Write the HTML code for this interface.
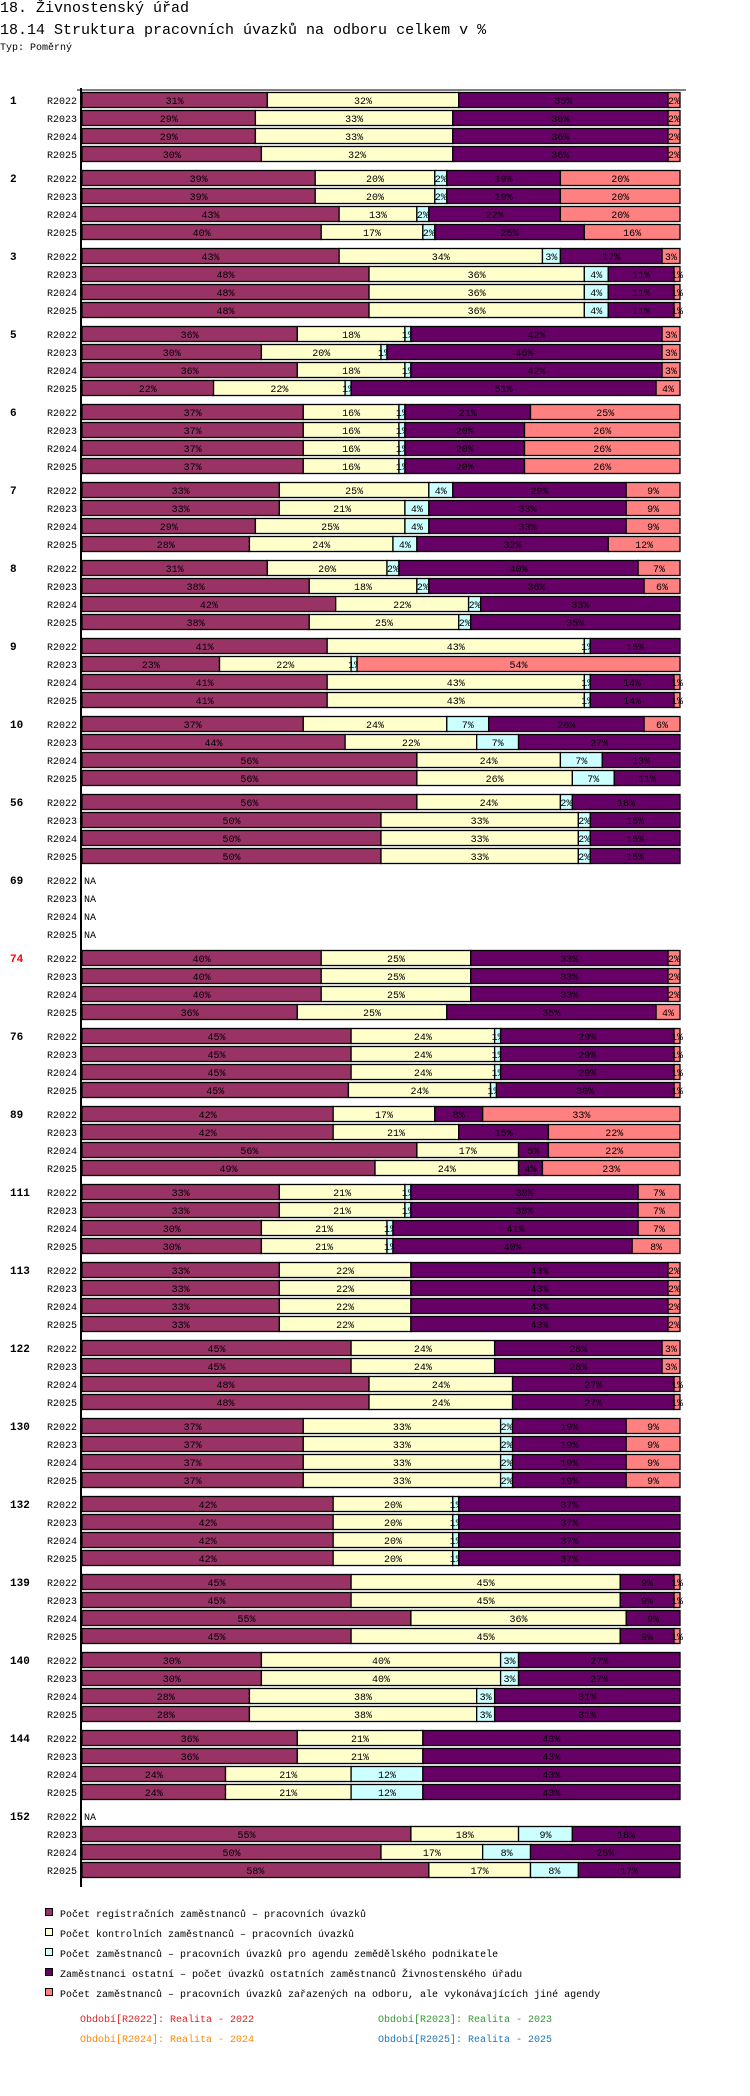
<!DOCTYPE html>
<html><head><meta charset="utf-8">
<style>
body{margin:0;background:#fff;width:750px;height:2096px;overflow:hidden;font-family:"Liberation Mono",monospace;}
.h1{position:absolute;left:0;top:0;font-size:15px;}
.h2{position:absolute;left:0;top:22px;font-size:15px;}
.h3{position:absolute;left:0;top:43px;font-size:10px;}
svg{position:absolute;left:0;top:0;}
</style></head><body>
<div class="h1">18. Živnostenský úřad</div>
<div class="h2">18.14 Struktura pracovních úvazků na odboru celkem v %</div>
<div class="h3">Typ: Poměrný</div>
<svg id="chart" width="750" height="2096"></svg>
<script>
const groups = ["1","2","3","5","6","7","8","9","10","56","69","74","76","89","111","113","122","130","132","139","140","144","152"];
const periods = ["R2022","R2023","R2024","R2025"];
const colors = ["#993366","#ffffcc","#ccffff","#660066","#ff8080"];
const seriesNames = ["Počet registračních zaměstnanců – pracovních úvazků","Počet kontrolních zaměstnanců – pracovních úvazků","Počet zaměstnanců – pracovních úvazků pro agendu zemědělského podnikatele","Zaměstnanci ostatní – počet úvazků ostatních zaměstnanců Živnostenského úřadu","Počet zaměstnanců – pracovních úvazků zařazených na odboru, ale vykonávajících jiné agendy"];
const g1 = [[31,32,0,35,2],[29,33,0,36,2],[29,33,0,36,2],[30,32,0,36,2]];
const g2 = [[39,20,2,19,20],[39,20,2,19,20],[43,13,2,22,20],[40,17,2,25,16]];
const g3 = [[43,34,3,17,3],[48,36,4,11,1],[48,36,4,11,1],[48,36,4,11,1]];
const g5 = [[36,18,1,42,3],[30,20,1,46,3],[36,18,1,42,3],[22,22,1,51,4]];
const g6 = [[37,16,1,21,25],[37,16,1,20,26],[37,16,1,20,26],[37,16,1,20,26]];
const g7 = [[33,25,4,29,9],[33,21,4,33,9],[29,25,4,33,9],[28,24,4,32,12]];
const g8 = [[31,20,2,40,7],[38,18,2,36,6],[42,22,2,33,0],[38,25,2,35,0]];
const g9 = [[41,43,1,15,0],[23,22,1,0,54],[41,43,1,14,1],[41,43,1,14,1]];
const g10 = [[37,24,7,26,6],[44,22,7,27,0],[56,24,7,13,0],[56,26,7,11,0]];
const g56 = [[56,24,2,18,0],[50,33,2,15,0],[50,33,2,15,0],[50,33,2,15,0]];
const g69 = [null,null,null,null];
const g74 = [[40,25,0,33,2],[40,25,0,33,2],[40,25,0,33,2],[36,25,0,35,4]];
const g76 = [[45,24,1,29,1],[45,24,1,29,1],[45,24,1,29,1],[45,24,1,30,1]];
const g89 = [[42,17,0,8,33],[42,21,0,15,22],[56,17,0,5,22],[49,24,0,4,23]];
const g111 = [[33,21,1,38,7],[33,21,1,38,7],[30,21,1,41,7],[30,21,1,40,8]];
const g113 = [[33,22,0,43,2],[33,22,0,43,2],[33,22,0,43,2],[33,22,0,43,2]];
const g122 = [[45,24,0,28,3],[45,24,0,28,3],[48,24,0,27,1],[48,24,0,27,1]];
const g130 = [[37,33,2,19,9],[37,33,2,19,9],[37,33,2,19,9],[37,33,2,19,9]];
const g132 = [[42,20,1,37,0],[42,20,1,37,0],[42,20,1,37,0],[42,20,1,37,0]];
const g139 = [[45,45,0,9,1],[45,45,0,9,1],[55,36,0,9,0],[45,45,0,9,1]];
const g140 = [[30,40,3,27,0],[30,40,3,27,0],[28,38,3,31,0],[28,38,3,31,0]];
const g144 = [[36,21,0,43,0],[36,21,0,43,0],[24,21,12,43,0],[24,21,12,43,0]];
const g152 = [null,[55,18,9,18,0],[50,17,8,25,0],[58,17,8,17,0]];
const values = [g1,g2,g3,g5,g6,g7,g8,g9,g10,g56,g69,g74,g76,g89,g111,g113,g122,g130,g132,g139,g140,g144,g152];

const NS="http://www.w3.org/2000/svg";
const svg=document.getElementById('chart');
const X0=82, W=598, Y0=92, ROW=18, GROUP=78, BH=15;
function xs(v){return X0+v*W/100;}
function rowY(g,r){return Y0+g*GROUP+r*ROW;}
function mk(tag,attrs){const e=document.createElementNS(NS,tag);for(const k in attrs)e.setAttribute(k,attrs[k]);svg.appendChild(e);return e;}

groups.forEach((gn,gi)=>{
  const gl=mk('text',{x:10,y:rowY(gi,0)+12,'font-size':11,'font-weight':'bold','font-family':'Liberation Mono, monospace',fill:gn==="74"?'#ff0000':'#000'});
  
  
  gl.textContent=gn;
  periods.forEach((p,ri)=>{
    const y=rowY(gi,ri);
    const pl=mk('text',{x:77,y:y+12,'font-size':10,'text-anchor':'end','font-family':'Liberation Mono, monospace',fill:'#000'});
    
    
    pl.textContent=p;
    const vals=values[gi][ri];
    if(!vals){
      const na=mk('text',{x:84,y:y+12,'font-size':10,'font-family':'Liberation Mono, monospace',fill:'#000'});
      
      
      na.textContent='NA';
      return;
    }
    const total=vals.reduce((a,b)=>a+b,0);
    let cum=0;
    vals.forEach((v,si)=>{
      if(v<=0)return;
      const xa=xs(cum/total*100), xb=xs((cum+v)/total*100);
      const r=mk('rect',{x:xa,y:y+0.5,width:xb-xa,height:BH,fill:colors[si],stroke:'#000','stroke-width':1.3});
      
      
      const t=mk('text',{x:(xa+xb)/2,y:y+12,'font-size':10,'text-anchor':'middle','font-family':'Liberation Mono, monospace',fill:'#000'});
      
      
      t.textContent=v+'%';
      cum+=v;
    });
  });
});
const ax=mk('line',{x1:81,y1:88,x2:81,y2:1887,stroke:'#000','stroke-width':2});


const tl=mk('line',{x1:77,y1:90,x2:686,y2:90,stroke:'#000','stroke-width':1});



seriesNames.forEach((n,i)=>{
  const cy=1913+i*20;
  const s=mk('rect',{x:45.5,y:cy-4.5,width:7,height:7,fill:colors[i],stroke:'#000','stroke-width':1});
  
  
  const t=mk('text',{x:60,y:cy+4,'font-size':10,'font-family':'Liberation Mono, monospace',fill:'#000'});
  
  
  t.textContent=n;
});
const periodNotes=[["Období[R2022]: Realita - 2022",80,2018,"#dd2222"],["Období[R2023]: Realita - 2023",378,2018,"#339933"],["Období[R2024]: Realita - 2024",80,2038,"#ff8800"],["Období[R2025]: Realita - 2025",378,2038,"#2277bb"]];
periodNotes.forEach(p=>{
  const t=mk('text',{x:p[1],y:p[2]+4,'font-size':10,'font-family':'Liberation Mono, monospace',fill:p[3]});
  
  
  t.textContent=p[0];
});
</script>
</body></html>
